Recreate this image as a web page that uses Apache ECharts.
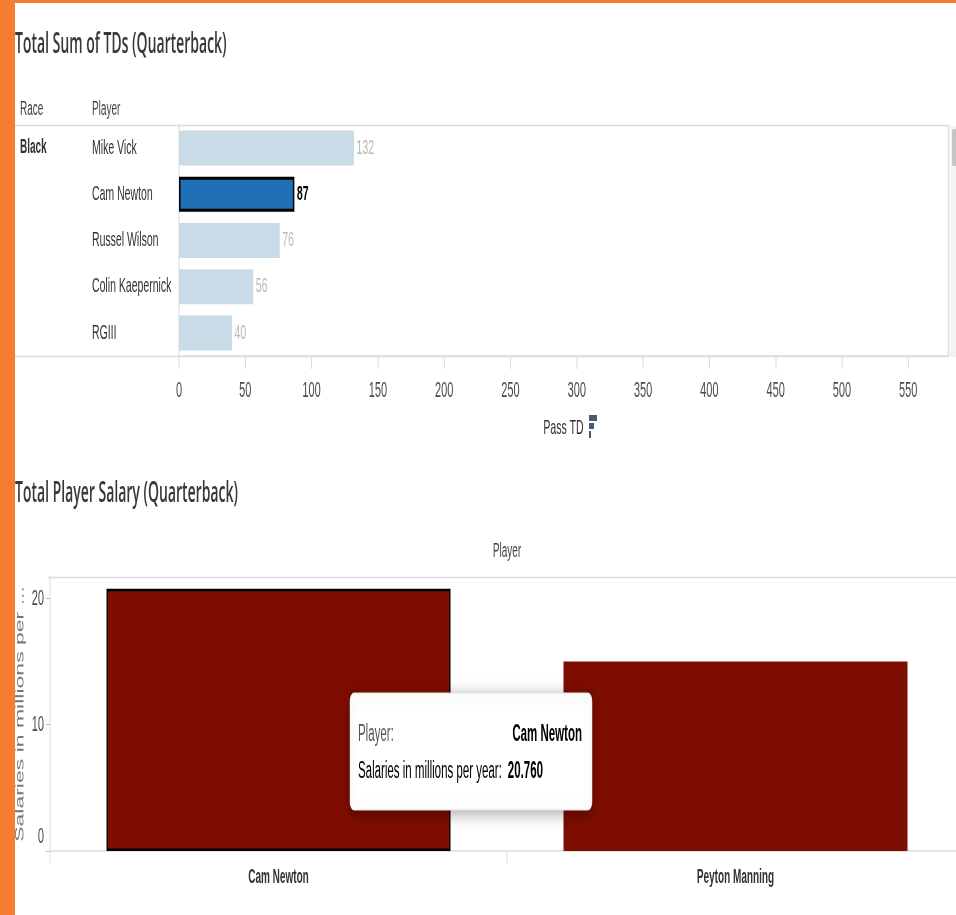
<!DOCTYPE html>
<html>
<head>
<meta charset="utf-8">
<script src="https://cdn.jsdelivr.net/npm/echarts@6/dist/echarts.min.js"></script>
<style>
html,body{margin:0;padding:0;background:#fff;overflow:hidden;width:956px;height:915px;}
#main{width:1912px;height:915px;transform:scaleX(0.5);transform-origin:0 0;}
</style>
</head>
<body>
<div id="main"></div>
<script>
// ---- data ----
const tdPlayers = ['Mike Vick', 'Cam Newton', 'Russel Wilson', 'Colin Kaepernick', 'RGIII'];
const tdValues = [132, 87, 76, 56, 40];
const tdRace = 'Black';
const tdTicks = [0, 50, 100, 150, 200, 250, 300, 350, 400, 450, 500, 550];
const salaryPlayers = ['Cam Newton', 'Peyton Manning'];
const salaryValues = [20.76, 15.0];
const salaryTicks = [0, 10, 20];
const selectedPlayer = 'Cam Newton';

// The reference picture is horizontally condensed; the chart is drawn twice as wide and squeezed by CSS.
const SX = 0.5;
const X = v => v / SX;

const FONT = "'Liberation Sans',Arial,sans-serif";
const TITLE_FONT = "'Open Sans','Liberation Sans',sans-serif";
const ORANGE = '#F67C30';
const GRIDLINE = '#dcdcdc';

const chart = echarts.init(document.getElementById('main'), null, {renderer: 'canvas'});

const tdData = tdValues.map((v, i) => {
  const sel = tdPlayers[i] === selectedPlayer;
  return {
    value: v,
    itemStyle: sel ? {color: '#1F70B4', borderColor: '#000', borderWidth: 3} : {color: '#C9DBE6'},
    label: sel ? {color: '#000', fontWeight: 'bold'} : {color: '#b8b8b8'}
  };
});
const salData = salaryValues.map((v, i) => {
  const sel = salaryPlayers[i] === selectedPlayer;
  return {
    value: v,
    itemStyle: sel ? {color: '#7E0E00', borderColor: '#000', borderWidth: 2.5} : {color: '#7E0E00'}
  };
});
const selIdx = salaryPlayers.indexOf(selectedPlayer);

const TZ = 300;
const option = {
  backgroundColor: '#fff',
  animation: false,
  grid: [
    {left: X(179), top: 125, width: X(769), height: 231, outerBoundsMode: 'none', containLabel: false},
    {left: X(50), top: 577, width: X(914), height: 274, outerBoundsMode: 'none', containLabel: false}
  ],
  xAxis: [
    {
      gridIndex: 0, type: 'value', min: 0, max: 580, interval: 50,
      axisLine: {show: true, lineStyle: {color: GRIDLINE, width: 1.5}},
      axisTick: {show: true, length: 13, lineStyle: {color: GRIDLINE, width: 2}},
      splitLine: {show: false},
      axisLabel: {showMaxLabel: false, margin: 24, fontFamily: FONT, fontSize: 22, color: '#4a4a4a'},
      name: 'Pass TD', nameLocation: 'middle', nameGap: 62,
      nameTextStyle: {fontFamily: FONT, fontSize: 21, color: '#333'}
    },
    {
      gridIndex: 1, type: 'category', data: salaryPlayers,
      axisLine: {show: true, lineStyle: {color: GRIDLINE, width: 1.5}},
      axisTick: {show: true, length: 12, lineStyle: {color: GRIDLINE, width: 2}},
      axisLabel: {margin: 16, fontFamily: FONT, fontSize: 20, fontWeight: 'bold', color: '#333'}
    }
  ],
  yAxis: [
    {
      gridIndex: 0, type: 'category', data: tdPlayers, inverse: true,
      axisLine: {show: true, lineStyle: {color: GRIDLINE, width: 2}},
      axisTick: {show: false},
      axisLabel: {align: 'left', margin: X(179 - 92), fontFamily: FONT, fontSize: 21, color: '#333'}
    },
    {
      gridIndex: 1, type: 'value', min: 0, max: 21.7, interval: 10,
      axisLine: {show: true, lineStyle: {color: GRIDLINE, width: 2}},
      axisTick: {show: true, length: 8, lineStyle: {color: '#bbb'}},
      splitLine: {show: false},
      axisLabel: {
        showMaxLabel: false, margin: 12, fontFamily: FONT, fontSize: 22, color: '#4a4a4a',
        formatter: v => v === 0 ? '{z|0}' : String(v),
        rich: {z: {fontFamily: FONT, fontSize: 22, color: '#4a4a4a', padding: [0, 0, 28, 0]}}
      },
      name: 'Salaries in millions per ...', nameLocation: 'middle', nameGap: 46,
      nameTextStyle: {fontFamily: FONT, fontSize: 23, color: '#777'}
    }
  ],
  series: [
    {
      type: 'bar', xAxisIndex: 0, yAxisIndex: 0, data: tdData, barWidth: 35,
      label: {show: true, position: 'right', distance: 5, fontFamily: FONT, fontSize: 21}
    },
    {
      type: 'bar', xAxisIndex: 1, yAxisIndex: 1, data: salData, barWidth: X(344)
    }
  ],
  graphic: [
    // orange frame
    {type: 'rect', shape: {x: 0, y: 0, width: X(15), height: 915}, style: {fill: ORANGE}, z: 100},
    {type: 'rect', shape: {x: 0, y: 0, width: X(956), height: 3}, style: {fill: ORANGE}, z: 100},
    // titles
    {type: 'text', x: X(15), y: 45, style: {text: 'Total Sum of TDs (Quarterback)', font: '600 28px ' + TITLE_FONT, fill: '#383838', verticalAlign: 'middle'}},
    {type: 'text', x: X(15), y: 494, style: {text: 'Total Player Salary (Quarterback)', font: '600 28px ' + TITLE_FONT, fill: '#383838', verticalAlign: 'middle'}},
    // headers
    {type: 'text', x: X(20), y: 109, style: {text: 'Race', font: '20px ' + FONT, fill: '#444', verticalAlign: 'middle'}},
    {type: 'text', x: X(92), y: 109, style: {text: 'Player', font: '20px ' + FONT, fill: '#444', verticalAlign: 'middle'}},
    {type: 'text', x: X(20), y: 147, style: {text: tdRace, font: 'bold 20px ' + FONT, fill: '#333', verticalAlign: 'middle'}},
    {type: 'text', x: X(507), y: 551, style: {text: 'Player', font: '20px ' + FONT, fill: '#444', align: 'center', verticalAlign: 'middle'}},
    // top pane borders
    {type: 'line', shape: {x1: X(15), y1: 125.5, x2: X(948), y2: 125.5}, style: {stroke: GRIDLINE, lineWidth: 1.5}},
    {type: 'line', shape: {x1: X(15), y1: 356.5, x2: X(948), y2: 356.5}, style: {stroke: GRIDLINE, lineWidth: 1.5}},
    {type: 'line', shape: {x1: X(948.5), y1: 125, x2: X(948.5), y2: 357}, style: {stroke: GRIDLINE, lineWidth: 3}},
    // scrollbar
    {type: 'rect', shape: {x: X(950), y: 126, width: X(6), height: 231}, style: {fill: '#f3f3f3'}},
    {type: 'rect', shape: {x: X(952), y: 129, width: X(5), height: 37, r: 3}, style: {fill: '#c4c4c4'}},
    // sort icon
    {type: 'rect', shape: {x: X(589), y: 415, width: X(8), height: 6}, style: {fill: '#4B5A6E'}},
    {type: 'rect', shape: {x: X(589), y: 423, width: X(5), height: 6}, style: {fill: '#4B5A6E'}},
    {type: 'rect', shape: {x: X(589), y: 431, width: X(2), height: 7}, style: {fill: '#4B5A6E'}},
    // bottom pane top border
    {type: 'line', shape: {x1: X(48), y1: 577.5, x2: X(956), y2: 577.5}, style: {stroke: GRIDLINE, lineWidth: 1.5}},
    // tooltip
    {type: 'rect', z: TZ, shape: {x: X(350), y: 693, width: X(242), height: 117, r: 8},
      style: {fill: '#fff', stroke: '#e2e2e2', lineWidth: 1, shadowBlur: 16, shadowOffsetY: 3, shadowColor: 'rgba(0,0,0,0.35)'}},
    {type: 'text', z: TZ + 1, x: X(358), y: 735, style: {text: 'Player:', font: '23px ' + FONT, fill: '#555', verticalAlign: 'middle'}},
    {type: 'text', z: TZ + 1, x: X(582), y: 735, style: {text: salaryPlayers[selIdx], font: 'bold 23px ' + FONT, fill: '#000', align: 'right', verticalAlign: 'middle'}},
    {type: 'text', z: TZ + 1, x: X(358), y: 772, style: {
      text: '{k|Salaries in millions per year:}{v|' + salaryValues[selIdx].toFixed(3) + '}',
      verticalAlign: 'middle',
      rich: {
        k: {fontFamily: FONT, fontSize: 23, color: '#555'},
        v: {fontFamily: FONT, fontSize: 23, fontWeight: 'bold', color: '#000', padding: [0, 0, 0, 12]}
      }
    }}
  ]
};
chart.setOption(option);
</script>
</body>
</html>
